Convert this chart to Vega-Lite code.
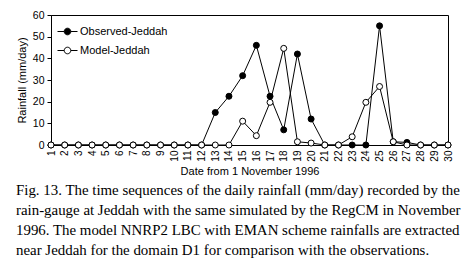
{
  "$schema": "https://vega.github.io/schema/vega-lite/v6.json",
  "width": 397,
  "height": 130,
  "autosize": {"type": "none"},
  "padding": {"left": 51, "top": 15, "right": 28, "bottom": 124},
  "background": "white",
  "config": {
    "view": {"stroke": "black", "strokeWidth": 1},
    "font": "Liberation Sans"
  },
  "title": {
    "text": [
      "Fig. 13. The time sequences of the daily rainfall (mm/day) recorded by the",
      "rain-gauge at Jeddah with the same simulated by the RegCM in November",
      "1996. The model NNRP2 LBC with EMAN scheme rainfalls are extracted",
      "near Jeddah for the domain D1 for comparison with the observations."
    ],
    "orient": "bottom",
    "anchor": "start",
    "frame": "group",
    "dx": -35,
    "offset": 7,
    "font": "Liberation Serif",
    "fontSize": 14.9,
    "fontWeight": "normal",
    "lineHeight": 20,
    "color": "black"
  },
  "data": {
    "values": [
      {"day": 1, "rain": 0, "series": "Observed-Jeddah"},
      {"day": 2, "rain": 0, "series": "Observed-Jeddah"},
      {"day": 3, "rain": 0, "series": "Observed-Jeddah"},
      {"day": 4, "rain": 0, "series": "Observed-Jeddah"},
      {"day": 5, "rain": 0, "series": "Observed-Jeddah"},
      {"day": 6, "rain": 0, "series": "Observed-Jeddah"},
      {"day": 7, "rain": 0, "series": "Observed-Jeddah"},
      {"day": 8, "rain": 0, "series": "Observed-Jeddah"},
      {"day": 9, "rain": 0, "series": "Observed-Jeddah"},
      {"day": 10, "rain": 0, "series": "Observed-Jeddah"},
      {"day": 11, "rain": 0, "series": "Observed-Jeddah"},
      {"day": 12, "rain": 0, "series": "Observed-Jeddah"},
      {"day": 13, "rain": 15, "series": "Observed-Jeddah"},
      {"day": 14, "rain": 22.5, "series": "Observed-Jeddah"},
      {"day": 15, "rain": 32, "series": "Observed-Jeddah"},
      {"day": 16, "rain": 46, "series": "Observed-Jeddah"},
      {"day": 17, "rain": 22.5, "series": "Observed-Jeddah"},
      {"day": 18, "rain": 7, "series": "Observed-Jeddah"},
      {"day": 19, "rain": 42, "series": "Observed-Jeddah"},
      {"day": 20, "rain": 12, "series": "Observed-Jeddah"},
      {"day": 21, "rain": 0, "series": "Observed-Jeddah"},
      {"day": 22, "rain": 0, "series": "Observed-Jeddah"},
      {"day": 23, "rain": 0, "series": "Observed-Jeddah"},
      {"day": 24, "rain": 0, "series": "Observed-Jeddah"},
      {"day": 25, "rain": 55, "series": "Observed-Jeddah"},
      {"day": 26, "rain": 1.5, "series": "Observed-Jeddah"},
      {"day": 27, "rain": 1.2, "series": "Observed-Jeddah"},
      {"day": 28, "rain": 0, "series": "Observed-Jeddah"},
      {"day": 29, "rain": 0, "series": "Observed-Jeddah"},
      {"day": 30, "rain": 0, "series": "Observed-Jeddah"},
      {"day": 1, "rain": 0, "series": "Model-Jeddah"},
      {"day": 2, "rain": 0, "series": "Model-Jeddah"},
      {"day": 3, "rain": 0, "series": "Model-Jeddah"},
      {"day": 4, "rain": 0, "series": "Model-Jeddah"},
      {"day": 5, "rain": 0, "series": "Model-Jeddah"},
      {"day": 6, "rain": 0, "series": "Model-Jeddah"},
      {"day": 7, "rain": 0, "series": "Model-Jeddah"},
      {"day": 8, "rain": 0, "series": "Model-Jeddah"},
      {"day": 9, "rain": 0, "series": "Model-Jeddah"},
      {"day": 10, "rain": 0, "series": "Model-Jeddah"},
      {"day": 11, "rain": 0, "series": "Model-Jeddah"},
      {"day": 12, "rain": 0, "series": "Model-Jeddah"},
      {"day": 13, "rain": 0, "series": "Model-Jeddah"},
      {"day": 14, "rain": 0, "series": "Model-Jeddah"},
      {"day": 15, "rain": 11, "series": "Model-Jeddah"},
      {"day": 16, "rain": 4.3, "series": "Model-Jeddah"},
      {"day": 17, "rain": 19.7, "series": "Model-Jeddah"},
      {"day": 18, "rain": 44.6, "series": "Model-Jeddah"},
      {"day": 19, "rain": 1.5, "series": "Model-Jeddah"},
      {"day": 20, "rain": 0.9, "series": "Model-Jeddah"},
      {"day": 21, "rain": 0, "series": "Model-Jeddah"},
      {"day": 22, "rain": 0, "series": "Model-Jeddah"},
      {"day": 23, "rain": 3.8, "series": "Model-Jeddah"},
      {"day": 24, "rain": 19.7, "series": "Model-Jeddah"},
      {"day": 25, "rain": 27, "series": "Model-Jeddah"},
      {"day": 26, "rain": 1.5, "series": "Model-Jeddah"},
      {"day": 27, "rain": 0, "series": "Model-Jeddah"},
      {"day": 28, "rain": 0, "series": "Model-Jeddah"},
      {"day": 29, "rain": 0, "series": "Model-Jeddah"},
      {"day": 30, "rain": 0, "series": "Model-Jeddah"}
    ]
  },
  "encoding": {
    "x": {
      "field": "day",
      "type": "quantitative",
      "scale": {"domain": [1, 30], "nice": false, "zero": false},
      "axis": {
        "values": [1,2,3,4,5,6,7,8,9,10,11,12,13,14,15,16,17,18,19,20,21,22,23,24,25,26,27,28,29,30],
        "labelAngle": -90,
        "labelFontSize": 10,
        "labelColor": "black",
        "labelPadding": 5,
        "labelFlush": false,
        "labelOverlap": false,
        "ticks": false,
        "grid": false,
        "domainColor": "black",
        "title": "Date from 1 November 1996",
        "titleFontSize": 11,
        "titleFontWeight": "normal",
        "titleColor": "black",
        "titlePadding": 4
      }
    },
    "y": {
      "field": "rain",
      "type": "quantitative",
      "scale": {"domain": [0, 60], "nice": false},
      "axis": {
        "values": [0, 10, 20, 30, 40, 50, 60],
        "tickSize": 4,
        "tickColor": "black",
        "labelFontSize": 10.5,
        "labelColor": "black",
        "labelPadding": 3,
        "labelFlush": false,
        "grid": false,
        "domainColor": "black",
        "title": "Rainfall (mm/day)",
        "titleFontSize": 11,
        "titleFontWeight": "normal",
        "titleColor": "black",
        "titlePadding": 5
      }
    }
  },
  "layer": [
    {
      "mark": {"type": "line", "color": "black", "strokeWidth": 1},
      "encoding": {"detail": {"field": "series"}}
    },
    {
      "mark": {"type": "point", "shape": "circle", "filled": true, "size": 36, "stroke": "black", "strokeWidth": 1, "opacity": 1},
      "encoding": {
        "fill": {
          "field": "series",
          "type": "nominal",
          "scale": {"domain": ["Observed-Jeddah", "Model-Jeddah"], "range": ["black", "white"]},
          "legend": {
            "title": null,
            "orient": "none",
            "legendX": 6,
            "legendY": 6,
            "padding": 0,
            "symbolType": "M-1,0H-0.33M0.33,0H1M-0.33,0A0.33,0.33 0 1,0 0.33,0A0.33,0.33 0 1,0 -0.33,0Z",
            "symbolSize": 400,
            "symbolStrokeColor": "black",
            "symbolStrokeWidth": 1,
            "labelFontSize": 11,
            "labelColor": "black",
            "labelOffset": 2,
            "rowPadding": 3
          }
        }
      }
    }
  ]
}
